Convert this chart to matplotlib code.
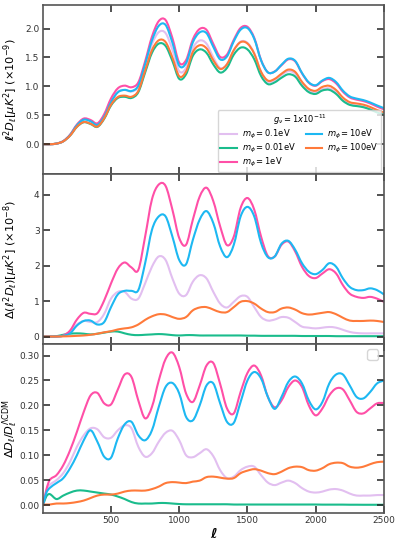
import matplotlib
matplotlib.use("Agg")
import matplotlib.pyplot as plt
from matplotlib.path import Path
from matplotlib.patches import PathPatch
from matplotlib.lines import Line2D
import numpy as np

# multipole grid
ell = [2, 25] + list(range(50, 2501, 50))

labels = [r"$m_\phi = 0.1$eV", r"$m_\phi = 0.01$eV", r"$m_\phi = 1$eV",
          r"$m_\phi = 10$eV", r"$m_\phi = 100$eV"]
colors = ["#e2bff0", "#1abc8c", "#ff4fa7", "#1db8f2", "#ff7a3a"]

# top panel: l^2 D_l (x1e-9)
top_01 = [0, 0, 0, 0.01, 0.053, 0.162, 0.332, 0.428, 0.399, 0.341, 0.494, 0.751, 0.908, 0.938,
          0.911, 0.995, 1.348, 1.728, 1.939, 1.922, 1.633, 1.262, 1.319, 1.662, 1.794, 1.739,
          1.502, 1.318, 1.384, 1.629, 1.775, 1.754, 1.572, 1.244, 1.082, 1.109, 1.196, 1.263,
          1.217, 1.041, 0.922, 0.89, 0.952, 0.966, 0.895, 0.77, 0.694, 0.671, 0.651, 0.61,
          0.56, 0.519]
top_001 = [0, 0, 0, 0.01, 0.05, 0.15, 0.30, 0.38, 0.35, 0.30, 0.44, 0.67, 0.80, 0.82, 0.80, 0.90,
           1.24, 1.58, 1.74, 1.70, 1.44, 1.13, 1.21, 1.53, 1.64, 1.58, 1.38, 1.24, 1.32, 1.55,
           1.67, 1.64, 1.47, 1.18, 1.04, 1.07, 1.15, 1.21, 1.17, 1.01, 0.90, 0.87, 0.93, 0.94,
           0.87, 0.75, 0.68, 0.66, 0.64, 0.60, 0.55, 0.51]
top_1 = [0, 0, 0, 0.01, 0.054, 0.165, 0.34, 0.444, 0.419, 0.361, 0.521, 0.792, 0.967, 1.013,
         0.985, 1.07, 1.434, 1.86, 2.13, 2.148, 1.836, 1.412, 1.454, 1.815, 1.994, 1.978, 1.734,
         1.511, 1.551, 1.807, 2.011, 2.031, 1.84, 1.456, 1.243, 1.259, 1.367, 1.468, 1.433,
         1.225, 1.062, 1.011, 1.093, 1.126, 1.053, 0.907, 0.809, 0.771, 0.746, 0.705, 0.651,
         0.604]
top_10 = [0, 0, 0, 0.01, 0.052, 0.16, 0.327, 0.424, 0.397, 0.334, 0.478, 0.727, 0.897, 0.94,
          0.92, 1.013, 1.385, 1.793, 2.048, 2.063, 1.757, 1.358, 1.403, 1.764, 1.935, 1.921,
          1.683, 1.468, 1.518, 1.78, 1.981, 2.009, 1.823, 1.45, 1.243, 1.256, 1.375, 1.479,
          1.442, 1.232, 1.07, 1.02, 1.103, 1.147, 1.075, 0.927, 0.827, 0.789, 0.763, 0.722,
          0.671, 0.625]
top_100 = [0, 0, 0, 0.01, 0.05, 0.15, 0.302, 0.383, 0.354, 0.305, 0.448, 0.683, 0.817, 0.84,
           0.821, 0.923, 1.272, 1.626, 1.798, 1.767, 1.5, 1.176, 1.258, 1.595, 1.712, 1.659,
           1.451, 1.302, 1.383, 1.626, 1.766, 1.742, 1.565, 1.253, 1.10, 1.13, 1.219, 1.291,
           1.251, 1.079, 0.957, 0.924, 0.992, 1.01, 0.937, 0.807, 0.727, 0.705, 0.684, 0.644,
           0.592, 0.55]

# middle panel: Delta(l^2 D_l) (x1e-8)
mid_01 = [0, 0, 0, 0, 0.02, 0.12, 0.34, 0.44, 0.41, 0.41, 0.64, 1.07, 1.26, 1.26, 1.07, 1.07,
          1.5, 1.97, 2.26, 2.16, 1.64, 1.21, 1.17, 1.55, 1.73, 1.64, 1.26, 0.93, 0.82, 0.98, 1.14,
          1.12, 0.83, 0.55, 0.45, 0.48, 0.55, 0.53, 0.41, 0.28, 0.25, 0.23, 0.25, 0.27, 0.25,
          0.19, 0.13, 0.10, 0.09, 0.09, 0.09, 0.09]
mid_001 = [0, 0, 0, 0.01, 0.05, 0.08, 0.09, 0.08, 0.06, 0.08, 0.11, 0.14, 0.14, 0.09, 0.05, 0.04,
           0.05, 0.06, 0.07, 0.06, 0.04, 0.03, 0.04, 0.04, 0.03, 0.03, 0.03, 0.03, 0.03, 0.03,
           0.03, 0.025, 0.025, 0.02, 0.02, 0.02, 0.02, 0.02, 0.02, 0.015, 0.015, 0.015, 0.015,
           0.015, 0.01, 0.01, 0.01, 0.01, 0.01, 0.01, 0.01, 0.01]
mid_1 = [0, 0, 0, 0, 0.03, 0.17, 0.48, 0.67, 0.64, 0.66, 1.02, 1.5, 1.92, 2.09, 1.95, 1.88, 2.82,
         3.87, 4.29, 4.25, 3.58, 2.78, 2.59, 3.3, 3.95, 4.2, 3.82, 3.11, 2.58, 2.82, 3.63, 3.91,
         3.58, 2.82, 2.27, 2.26, 2.59, 2.68, 2.4, 1.97, 1.71, 1.65, 1.78, 1.90, 1.78, 1.45, 1.21,
         1.12, 1.09, 1.12, 1.07, 0.98]
mid_10 = [0, 0, 0, 0, 0.02, 0.09, 0.31, 0.44, 0.45, 0.34, 0.41, 0.83, 1.19, 1.29, 1.29, 1.31,
          2.07, 3.01, 3.39, 3.39, 2.82, 2.16, 2.04, 2.73, 3.3, 3.54, 3.2, 2.54, 2.24, 2.59, 3.39,
          3.66, 3.39, 2.64, 2.24, 2.26, 2.62, 2.7, 2.45, 2.07, 1.83, 1.76, 1.88, 2.07, 1.97, 1.64,
          1.4, 1.31, 1.31, 1.36, 1.31, 1.19]
mid_100 = [0, 0, 0, 0, 0.005, 0.01, 0.02, 0.03, 0.05, 0.08, 0.12, 0.15, 0.2, 0.23, 0.26, 0.34,
           0.47, 0.57, 0.63, 0.62, 0.55, 0.5, 0.55, 0.74, 0.82, 0.83, 0.76, 0.69, 0.69, 0.83, 0.98,
           1.0, 0.93, 0.79, 0.69, 0.69, 0.79, 0.82, 0.76, 0.66, 0.62, 0.64, 0.67, 0.69, 0.63, 0.53,
           0.45, 0.44, 0.44, 0.45, 0.44, 0.41]

# bottom panel: Delta D_l / D_l^LCDM
rat_01 = [0, 0.027, 0.04, 0.05, 0.064, 0.087, 0.117, 0.14, 0.154, 0.152, 0.136, 0.135, 0.15, 0.16,
          0.154, 0.117, 0.097, 0.104, 0.127, 0.145, 0.149, 0.13, 0.10, 0.096, 0.104, 0.112, 0.098,
          0.07, 0.054, 0.057, 0.07, 0.077, 0.077, 0.06, 0.045, 0.04, 0.045, 0.049, 0.044, 0.034,
          0.027, 0.025, 0.027, 0.031, 0.032, 0.029, 0.023, 0.019, 0.019, 0.019, 0.02, 0.02]
rat_001 = [0, 0.017, 0.022, 0.012, 0.019, 0.025, 0.029, 0.029, 0.027, 0.025, 0.023, 0.021, 0.017,
           0.012, 0.006, 0.003, 0.003, 0.003, 0.004, 0.004, 0.003, 0.002, 0.0015, 0.0015, 0.0015,
           0.0015, 0.0015, 0.0015, 0.0015, 0.001, 0.001, 0.001, 0.001, 0.001, 0.001, 0.001, 0.001,
           0.001, 0.001, 0.001, 0.001, 0.001, 0.0008, 0.0008, 0.0008, 0.0008, 0.0006, 0.0006,
           0.0005, 0.0005, 0.0005, 0.0005]
rat_1 = [0, 0.03, 0.05, 0.06, 0.08, 0.11, 0.147, 0.187, 0.22, 0.225, 0.204, 0.202, 0.232, 0.262,
         0.257, 0.21, 0.174, 0.197, 0.25, 0.293, 0.306, 0.277, 0.224, 0.207, 0.24, 0.28, 0.285,
         0.243, 0.194, 0.184, 0.227, 0.265, 0.28, 0.26, 0.217, 0.196, 0.21, 0.237, 0.25, 0.237,
         0.2, 0.18, 0.194, 0.22, 0.234, 0.232, 0.21, 0.187, 0.184, 0.194, 0.204, 0.205]
rat_10 = [0, 0.024, 0.034, 0.044, 0.054, 0.074, 0.10, 0.13, 0.15, 0.127, 0.097, 0.095, 0.134,
          0.162, 0.167, 0.14, 0.13, 0.15, 0.197, 0.237, 0.245, 0.224, 0.177, 0.17, 0.20, 0.24,
          0.244, 0.204, 0.167, 0.165, 0.207, 0.25, 0.267, 0.254, 0.217, 0.193, 0.217, 0.247,
          0.258, 0.244, 0.21, 0.192, 0.207, 0.244, 0.262, 0.262, 0.24, 0.217, 0.214, 0.227,
          0.244, 0.25]
rat_100 = [0, 0.001, 0.001, 0.003, 0.003, 0.004, 0.006, 0.009, 0.014, 0.019, 0.021, 0.021, 0.023,
           0.027, 0.029, 0.029, 0.029, 0.032, 0.037, 0.044, 0.046, 0.045, 0.044, 0.047, 0.049,
           0.056, 0.057, 0.055, 0.053, 0.054, 0.064, 0.069, 0.072, 0.069, 0.064, 0.062, 0.067,
           0.074, 0.077, 0.076, 0.07, 0.069, 0.074, 0.082, 0.085, 0.084, 0.077, 0.075, 0.077,
           0.082, 0.086, 0.087]

top = [top_01, top_001, top_1, top_10, top_100]
mid = [mid_01, mid_001, mid_1, mid_10, mid_100]
rat = [rat_01, rat_001, rat_1, rat_10, rat_100]


# draw a smooth bezier line passing through every data point
def smooth_line(ax, x, y, color, lw=1.5):
    x = np.asarray(x, float)
    y = np.asarray(y, float)
    n = len(x)
    verts = [(x[0], y[0])]
    codes = [Path.MOVETO]
    for i in range(n - 1):
        i0 = max(i - 1, 0)
        i3 = min(i + 2, n - 1)
        h = x[i + 1] - x[i]
        m1 = (y[i + 1] - y[i0]) / (x[i + 1] - x[i0])
        m2 = (y[i3] - y[i]) / (x[i3] - x[i])
        verts += [(x[i] + h / 3, y[i] + m1 * h / 3),
                  (x[i + 1] - h / 3, y[i + 1] - m2 * h / 3),
                  (x[i + 1], y[i + 1])]
        codes += [Path.CURVE4] * 3
    ax.add_patch(PathPatch(Path(verts, codes), facecolor="none", edgecolor=color,
                           lw=lw, capstyle="round", joinstyle="round"))


fig = plt.figure(figsize=(3.99, 5.44), dpi=100)
gs = fig.add_gridspec(3, 1, left=0.108, right=0.962, bottom=0.057, top=0.991, hspace=0)
ax1 = fig.add_subplot(gs[0])
ax2 = fig.add_subplot(gs[1], sharex=ax1)
ax3 = fig.add_subplot(gs[2], sharex=ax1)

for i in range(5):
    smooth_line(ax1, ell, top[i], colors[i])
    smooth_line(ax2, ell, mid[i], colors[i])
    smooth_line(ax3, ell, rat[i], colors[i])

ax1.set_ylim(-0.52, 2.41)
ax2.set_ylim(-0.2, 4.58)
ax3.set_ylim(-0.016, 0.324)
ax1.set_xlim(2, 2500)

ax1.set_yticks([0.0, 0.5, 1.0, 1.5, 2.0])
ax2.set_yticks([0, 1, 2, 3, 4])
ax3.set_yticks([0.0, 0.05, 0.10, 0.15, 0.20, 0.25, 0.30])
ax3.set_xticks([500, 1000, 1500, 2000, 2500])

for ax in (ax1, ax2, ax3):
    ax.tick_params(direction="in", top=True, right=True, length=5, width=1.1, pad=2.5,
                   labelsize=6.5, color="#222222", labelcolor="#333333")
    for s in ax.spines.values():
        s.set_color("#555555")
        s.set_linewidth(1.2)
plt.setp(ax1.get_xticklabels(), visible=False)
plt.setp(ax2.get_xticklabels(), visible=False)

ax1.set_ylabel(r"$\boldsymbol{\ell}^2 D_\ell[\mu K^2]$ $(\times 10^{-9})$", fontsize=8.2)
ax2.set_ylabel(r"$\Delta(\ell^2 D_\ell)[\mu K^2]$ $(\times 10^{-8})$", fontsize=8.2)
ax3.set_ylabel(r"$\Delta D_\ell/D_\ell^{\Lambda\mathrm{CDM}}$", fontsize=8.2)
for ax in (ax1, ax2, ax3):
    ax.yaxis.set_label_coords(-0.068, 0.5)
ax3.set_xlabel(r"$\boldsymbol{\ell}$", fontsize=10)
ax3.xaxis.set_label_coords(0.5, -0.085)

handles = [Line2D([], [], color=c, lw=1.5) for c in colors]
ax1.legend(handles, labels, loc="lower right", ncol=2, fontsize=6,
           title=r"$g_\nu = 1x10^{-11}$", title_fontsize=6, handlelength=2.0,
           handletextpad=0.6, columnspacing=1.2, labelspacing=0.12, borderpad=0.3,
           borderaxespad=0.3, framealpha=0.8)
ax3.legend(handles=[], loc="upper right", borderaxespad=0.4)

fig.savefig("out.png", dpi=100)
